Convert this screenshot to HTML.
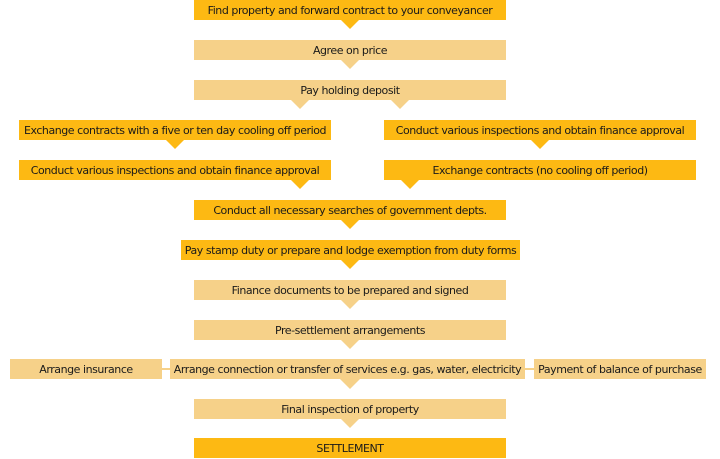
<!DOCTYPE html>
<html><head><style>
body{margin:0;width:720px;height:458px;background:#fff;position:relative;overflow:hidden;font-family:"DejaVu Sans","Liberation Sans",sans-serif;}
.b{position:absolute;height:20px;line-height:21px;text-align:center;font-size:11px;letter-spacing:-0.45px;color:#1a1a1a;white-space:nowrap;}
.d{background:#FDB913;}
.l{background:#F6D189;}
.a{position:absolute;width:0;height:0;border-left:10px solid transparent;border-right:10px solid transparent;}
.ad{border-top:10px solid #FDB913;}
.al{border-top:10px solid #F6D189;}
.ln{position:absolute;height:2px;background:#F6D189;top:368px;}
</style></head><body>
<div class="b d" style="left:194px;width:312px;top:0;">Find property and forward contract to your conveyancer</div>
<div class="a ad" style="left:340px;top:19px;"></div>
<div class="b l" style="left:194px;width:312px;top:40px;">Agree on price</div>
<div class="a al" style="left:340px;top:59px;"></div>
<div class="b l" style="left:194px;width:312px;top:80px;">Pay holding deposit</div>
<div class="a al" style="left:290px;top:99px;"></div>
<div class="a al" style="left:390px;top:99px;"></div>
<div class="b d" style="left:19px;width:312px;top:120px;">Exchange contracts with a five or ten day cooling off period</div>
<div class="a ad" style="left:165px;top:139px;"></div>
<div class="b d" style="left:384px;width:312px;top:120px;">Conduct various inspections and obtain finance approval</div>
<div class="a ad" style="left:530px;top:139px;"></div>
<div class="b d" style="left:19px;width:312px;top:160px;">Conduct various inspections and obtain finance approval</div>
<div class="a ad" style="left:290px;top:179px;"></div>
<div class="b d" style="left:384px;width:312px;top:160px;">Exchange contracts (no cooling off period)</div>
<div class="a ad" style="left:400px;top:179px;"></div>
<div class="b d" style="left:194px;width:312px;top:200px;">Conduct all necessary searches of government depts.</div>
<div class="a ad" style="left:340px;top:219px;"></div>
<div class="b d" style="left:181px;width:339px;top:240px;">Pay stamp duty or prepare and lodge exemption from duty forms</div>
<div class="a ad" style="left:340px;top:259px;"></div>
<div class="b l" style="left:194px;width:312px;top:280px;">Finance documents to be prepared and signed</div>
<div class="a al" style="left:340px;top:299px;"></div>
<div class="b l" style="left:194px;width:312px;top:320px;">Pre-settlement arrangements</div>
<div class="a al" style="left:340px;top:339px;"></div>
<div class="b l" style="left:10px;width:152px;top:359px;">Arrange insurance</div>
<div class="ln" style="left:162px;width:8px;"></div>
<div class="b l" style="left:170px;width:355px;top:359px;">Arrange connection or transfer of services e.g. gas, water, electricity</div>
<div class="ln" style="left:525px;width:9px;"></div>
<div class="b l" style="left:534px;width:172px;top:359px;">Payment of balance of purchase</div>
<div class="a al" style="left:340px;top:379px;"></div>
<div class="b l" style="left:194px;width:312px;top:399px;">Final inspection of property</div>
<div class="a al" style="left:340px;top:418px;"></div>
<div class="b d" style="left:194px;width:312px;top:438px;">SETTLEMENT</div>
</body></html>
